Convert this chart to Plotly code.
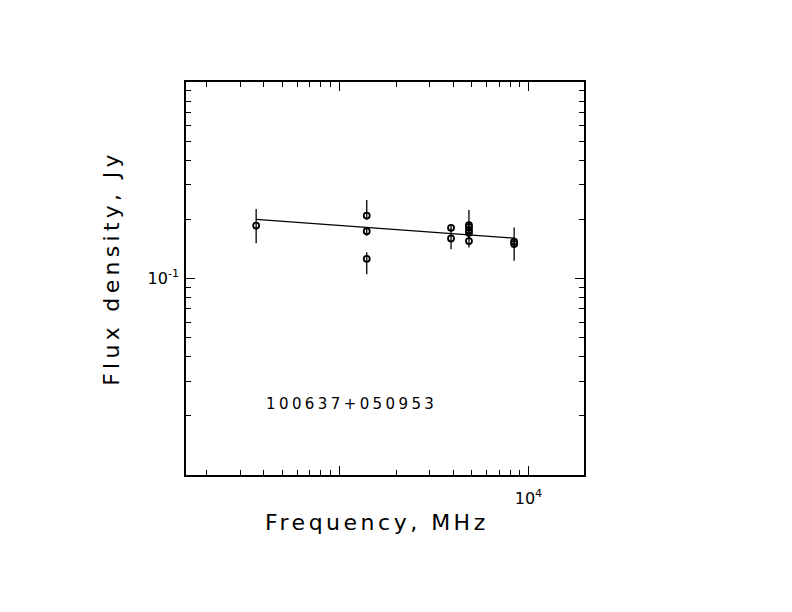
import numpy as np
import plotly.graph_objs as go

# ========================= 数据 =========================

# 观测频率 (MHz)
freq = [365, 1400, 1400, 1400, 3900, 3900, 4850, 4850, 4850, 4850, 4850, 8400, 8400]
# 流量密度 (Jy)
flux = [0.186, 0.209, 0.174, 0.126, 0.181, 0.160, 0.187, 0.183, 0.176, 0.171, 0.155, 0.154, 0.150]
# 误差
err_hi = [0.040, 0.042, 0.009, 0.010, 0.004, 0.019, 0.036, 0.010, 0.010, 0.010, 0.011, 0.028, 0.010]
err_lo = [0.035, 0.010, 0.009, 0.021, 0.004, 0.019, 0.010, 0.010, 0.010, 0.010, 0.011, 0.010, 0.027]

# 拟合直线端点
fit_freq = [365, 8400]
fit_flux = [0.200, 0.1605]

source_name = "100637+050953"

# 刻度
x_major = [1e3, 1e4]
x_major_text = ["", "10<sup>4</sup>"]
x_minor = [200, 300, 400, 500, 600, 700, 800, 900,
           2000, 3000, 4000, 5000, 6000, 7000, 8000, 9000]
y_major = [0.1]
y_major_text = ["10<sup>-1</sup>"]
y_minor = [0.02, 0.03, 0.04, 0.05, 0.06, 0.07, 0.08, 0.09,
           0.2, 0.3, 0.4, 0.5, 0.6, 0.7, 0.8, 0.9]

X_RANGE = [2.192, 4.293]
Y_RANGE = [-2, 0]
FONT = "DejaVu Sans"


def spaced(text, px):
    return f'<span style="letter-spacing:{px}px">{text}</span>'


# ========================= 绘图 =========================

def plot_spectrum():
    fig = go.Figure()

    fig.add_trace(go.Scatter(
        x=fit_freq, y=fit_flux, mode="lines",
        line=dict(color="black", width=1.3),
        showlegend=False, hoverinfo="skip"
    ))

    fig.add_trace(go.Scatter(
        x=freq, y=flux, mode="markers",
        marker=dict(symbol="circle-open", size=6, color="black",
                    line=dict(color="black", width=1.8)),
        error_y=dict(type="data", symmetric=False, array=err_hi, arrayminus=err_lo,
                     color="black", thickness=1.3, width=0),
        showlegend=False
    ))

    # 只为长刻度准备的叠加坐标轴
    fig.add_trace(go.Scatter(
        x=[x_major[0]], y=[y_major[0]], xaxis="x2", yaxis="y2",
        mode="markers", marker=dict(opacity=0), showlegend=False, hoverinfo="skip"
    ))

    axis_common = dict(
        type="log", showgrid=False, zeroline=False,
        linecolor="black", mirror="ticks",
        ticks="inside", tickwidth=1.2, tickcolor="black",
        tickmode="array",
        tickfont=dict(family=FONT, size=16, color="black"),
    )

    fig.update_layout(
        width=792, height=612,
        paper_bgcolor="white", plot_bgcolor="white",
        margin=dict(l=178, r=216, t=74, b=145),
        xaxis=dict(
            axis_common, range=X_RANGE, showline=True, linewidth=1.5,
            tickvals=x_minor + x_major, ticktext=[""] * len(x_minor) + x_major_text,
            ticklen=5, ticklabelstandoff=8,
        ),
        yaxis=dict(
            axis_common, range=Y_RANGE, showline=True, linewidth=1.5,
            tickvals=y_minor + y_major, ticktext=[""] * len(y_minor) + y_major_text,
            ticklen=5, ticklabelstandoff=2,
        ),
        xaxis2=dict(
            axis_common, range=X_RANGE, overlaying="x", anchor="y2", showline=False,
            tickvals=x_major, ticklen=9, showticklabels=False,
        ),
        yaxis2=dict(
            axis_common, range=Y_RANGE, overlaying="y", anchor="x2", showline=False,
            tickvals=y_major, ticklen=9, showticklabels=False,
        ),
        annotations=[
            dict(text=spaced("Frequency, MHz", 3.5), xref="paper", yref="paper",
                 x=0.48, y=-0.122, showarrow=False, xanchor="center", yanchor="middle",
                 font=dict(family=FONT, size=22, color="black")),
            dict(text=spaced("Flux density, Jy", 4.3), xref="paper", yref="paper",
                 x=-0.186, y=0.527, showarrow=False, xanchor="center", yanchor="middle",
                 textangle=-90, font=dict(family=FONT, size=22, color="black")),
            dict(text=spaced(source_name, 3.4), xref="paper", yref="paper",
                 x=0.415, y=0.18, showarrow=False, xanchor="center", yanchor="middle",
                 font=dict(family=FONT, size=15, color="black")),
        ],
    )
    return fig


def main():
    fig = plot_spectrum()
    fig.write_html("out.html")


if __name__ == "__main__":
    main()
